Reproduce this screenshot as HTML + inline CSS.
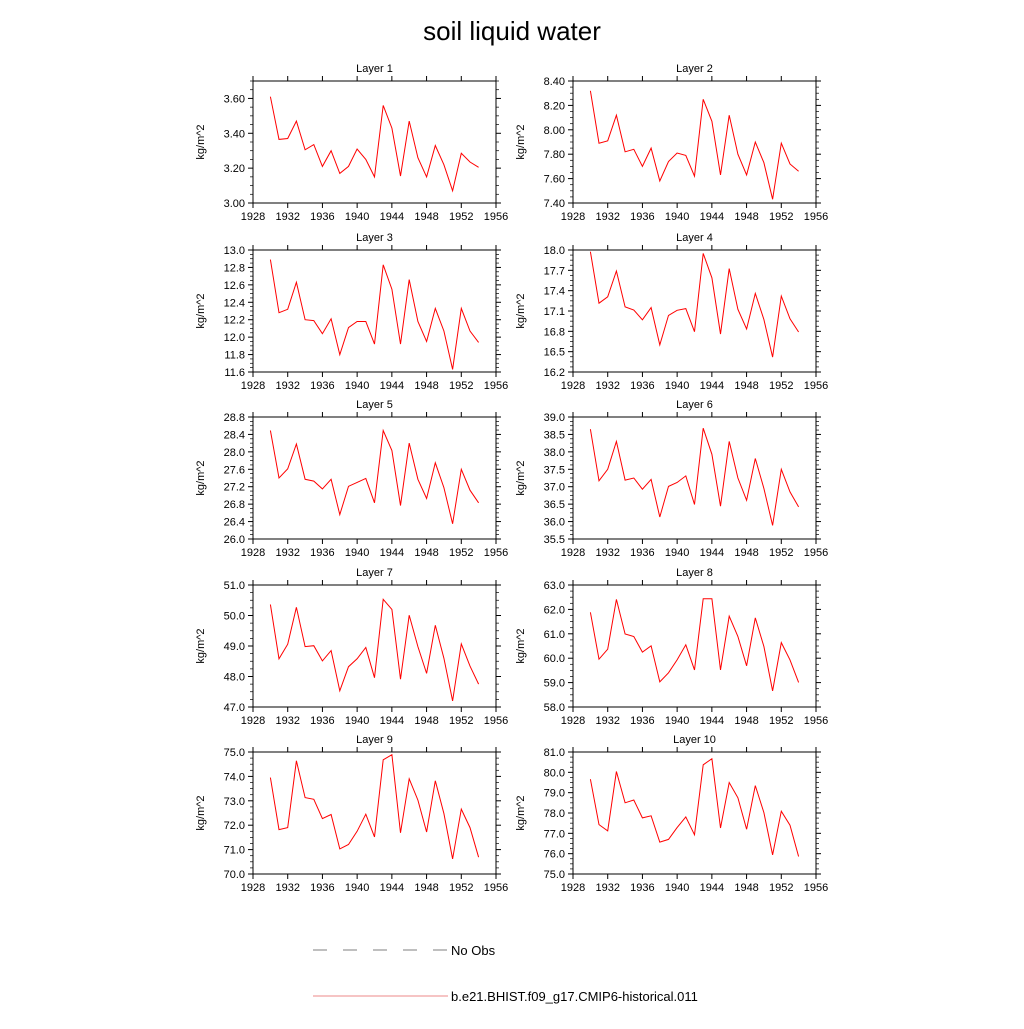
<!DOCTYPE html>
<html><head><meta charset="utf-8"><style>
body{margin:0;background:#fff;}
svg text{font-family:"Liberation Sans",Arial,sans-serif;fill:#000;}
</style></head><body>
<svg id="chart" width="1024" height="1024" viewBox="0 0 1024 1024" xmlns="http://www.w3.org/2000/svg">
<rect width="1024" height="1024" fill="#fff"/>
<text x="512" y="40" font-size="26" text-anchor="middle">soil liquid water</text>
<g id="panels"></g>
<g>
<line x1="313" y1="950" x2="448" y2="950" stroke="#000" stroke-width="0.6" stroke-dasharray="14,16"/>
<text x="451" y="955" font-size="13">No Obs</text>
<line x1="313" y1="996" x2="448" y2="996" stroke="#e88" stroke-width="1"/>
<text x="451" y="1001" font-size="13">b.e21.BHIST.f09_g17.CMIP6-historical.011</text>
</g>
</svg>
<script>
const years = [1930,1931,1932,1933,1934,1935,1936,1937,1938,1939,1940,1941,1942,1943,1944,1945,1946,1947,1948,1949,1950,1951,1952,1953,1954];
const xTicks = [1928,1932,1936,1940,1944,1948,1952,1956];
const layer1 = [3.61,3.365,3.37,3.47,3.305,3.335,3.21,3.30,3.17,3.21,3.31,3.25,3.15,3.56,3.43,3.155,3.47,3.26,3.15,3.33,3.22,3.07,3.285,3.235,3.205];
const layer2 = [8.32,7.89,7.91,8.12,7.82,7.84,7.70,7.85,7.58,7.74,7.81,7.79,7.62,8.25,8.07,7.63,8.12,7.80,7.63,7.90,7.73,7.43,7.89,7.72,7.66];
const layer3 = [12.89,12.28,12.32,12.63,12.20,12.19,12.04,12.21,11.80,12.11,12.18,12.18,11.92,12.83,12.55,11.92,12.66,12.18,11.95,12.33,12.07,11.63,12.33,12.07,11.94];
const layer4 = [17.975,17.215,17.31,17.69,17.16,17.115,16.97,17.15,16.6,17.035,17.11,17.135,16.795,17.95,17.59,16.76,17.725,17.125,16.835,17.36,16.975,16.42,17.32,16.985,16.79];
const layer5 = [28.49,27.40,27.61,28.18,27.37,27.33,27.15,27.37,26.56,27.21,27.30,27.39,26.83,28.49,28.03,26.77,28.20,27.37,26.93,27.75,27.18,26.35,27.60,27.12,26.83];
const layer6 = [38.65,37.17,37.50,38.30,37.19,37.25,36.93,37.21,36.13,37.01,37.12,37.31,36.49,38.68,37.93,36.44,38.30,37.25,36.61,37.81,36.95,35.89,37.50,36.85,36.42];
const layer7 = [50.36,48.58,49.06,50.27,48.98,49.01,48.51,48.85,47.53,48.32,48.58,48.95,47.96,50.53,50.20,47.91,50.01,48.98,48.10,49.68,48.60,47.20,49.07,48.34,47.75];
const layer8 = [61.88,59.96,60.37,62.41,60.99,60.89,60.25,60.51,59.03,59.40,59.93,60.55,59.52,62.44,62.44,59.52,61.72,60.89,59.69,61.65,60.48,58.66,60.64,59.93,59.01];
const layer9 = [73.95,71.82,71.90,74.64,73.13,73.06,72.27,72.44,71.03,71.21,71.75,72.45,71.52,74.68,74.89,71.69,73.90,73.03,71.72,73.82,72.48,70.62,72.66,71.90,70.69];
const layer10 = [79.66,77.43,77.12,80.04,78.50,78.64,77.76,77.86,76.57,76.70,77.28,77.81,76.93,80.37,80.67,77.26,79.50,78.75,77.20,79.35,78.02,75.94,78.09,77.40,75.86];
const yMins = [3.0,7.4,11.6,16.2,26.0,35.5,47,58,70,75];
const yMaxs = [3.7,8.4,13.0,18.0,28.8,39.0,51,63,75,81];
const yMajorSteps = [0.2,0.2,0.2,0.3,0.4,0.5,1,1,1,1];
const yDecimals = [2,2,1,1,1,1,1,1,1,1];
const seriesList = [layer1,layer2,layer3,layer4,layer5,layer6,layer7,layer8,layer9,layer10];

const NS = "http://www.w3.org/2000/svg";
const root = document.getElementById('panels');
const colX = [253,573], rowY = [81,250,417,585,752], W = 243, H = 122;
function mk(tag, attrs, parent){const e=document.createElementNS(NS,tag);for(const k in attrs)e.setAttribute(k,attrs[k]);parent.appendChild(e);return e;}

seriesList.forEach((data,i)=>{
  const x0 = colX[i%2], y0 = rowY[Math.floor(i/2)];
  const ymin=yMins[i], ymax=yMaxs[i], step=yMajorSteps[i];
  const sx = v => x0 + (v-1928)/(1956-1928)*W;
  const sy = v => y0 + H - (v-ymin)/(ymax-ymin)*H;
  const g = mk('g',{},root);
  
  
  const t = mk('text',{x:x0+W/2,y:y0-9,'font-size':11,'text-anchor':'middle'},g);
  
  
  t.textContent = 'Layer '+(i+1);
  const yl = mk('text',{x:0,y:0,'font-size':11,'text-anchor':'middle',transform:`translate(${x0-49},${y0+H/2}) rotate(-90)`},g);
  
  
  yl.textContent = 'kg/m^2';
  // x ticks
  xTicks.forEach(v=>{
    const x=sx(v);
    mk('line',{x1:x,y1:y0+H,x2:x,y2:y0+H+5,stroke:'#000','stroke-width':1},g);
    mk('line',{x1:x,y1:y0,x2:x,y2:y0-5,stroke:'#000','stroke-width':1},g);
    const tl = mk('text',{x:x,y:y0+H+17,'font-size':11,'text-anchor':'middle'},g);
    
    
    tl.textContent = v;
  });
  // y ticks
  const nMaj = Math.round((ymax-ymin)/step);
  for(let k=0;k<=nMaj;k++){
    const v = ymin+k*step; const y = sy(v);
    if(y < y0-0.5) continue;
    mk('line',{x1:x0-5,y1:y,x2:x0,y2:y,stroke:'#000','stroke-width':1},g);
    mk('line',{x1:x0+W,y1:y,x2:x0+W+5,y2:y,stroke:'#000','stroke-width':1},g);
    const tl = mk('text',{x:x0-8,y:y+4,'font-size':11,'text-anchor':'end'},g);
    
    
    tl.textContent = v.toFixed(yDecimals[i]);
    for(let m=1;m<4;m++){
      const ym = sy(v+m*step/4);
      if(ym < y0-0.5) break;
      mk('line',{x1:x0-3,y1:ym,x2:x0,y2:ym,stroke:'#000','stroke-width':0.7},g);
      mk('line',{x1:x0+W,y1:ym,x2:x0+W+3,y2:ym,stroke:'#000','stroke-width':0.7},g);
    }
  }
  const box = mk('rect',{x:x0,y:y0,width:W,height:H,fill:'none',stroke:'#000','stroke-width':1},g);
  
  
  const pts = data.map((v,j)=>sx(years[j]).toFixed(1)+','+sy(v).toFixed(1)).join(' ');
  const pl = mk('polyline',{points:pts,fill:'none',stroke:'#f00','stroke-width':1},g);
  
  
});
</script>
</body></html>
